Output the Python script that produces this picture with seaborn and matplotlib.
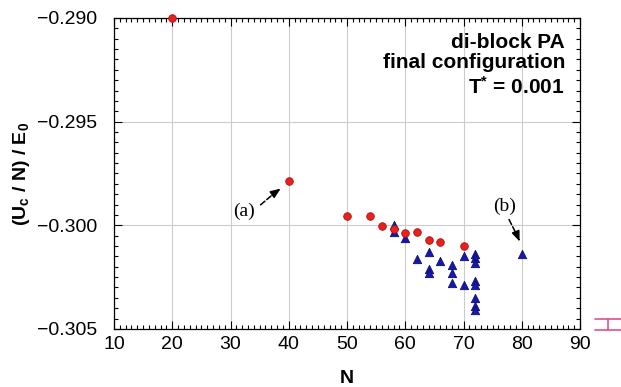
# di-block PA energy per monomer vs chain length N
import pandas as pd
import matplotlib.pyplot as plt
import matplotlib.ticker as mticker
from matplotlib.lines import Line2D
import seaborn as sns

# red circles
red_n = [20, 40, 50, 54, 56, 58, 60, 62, 64, 66, 70]
red_e = [-0.2900, -0.29786, -0.29955, -0.29955, -0.30005, -0.3002, -0.30035,
         -0.3003, -0.3007, -0.3008, -0.3010]

# blue triangles
blue_n = [58, 58, 60, 62, 64, 64, 64, 66, 68, 68, 68, 70, 70,
          72, 72, 72, 72, 72, 72, 72, 72, 80]
blue_e = [-0.29999, -0.3003, -0.3006, -0.30163, -0.3013, -0.3021, -0.3023,
          -0.3017, -0.3019, -0.3023, -0.3028, -0.3015, -0.3029,
          -0.3014, -0.3016, -0.3018, -0.3027, -0.3029, -0.3035, -0.3039,
          -0.3041, -0.3014]

sns.set_theme(style="ticks")
plt.rcParams['font.family'] = ['Liberation Sans', 'DejaVu Sans']
plt.rcParams['text.color'] = 'black'
plt.rcParams['axes.labelcolor'] = 'black'
plt.rcParams['mathtext.fontset'] = 'custom'
plt.rcParams['mathtext.rm'] = 'Liberation Sans:bold'
plt.rcParams['mathtext.it'] = 'Liberation Sans:bold'
plt.rcParams['mathtext.default'] = 'rm'

red_df = pd.DataFrame({"N": red_n, "E": red_e})
blue_df = pd.DataFrame({"N": blue_n, "E": blue_e})

fig = plt.figure(figsize=(6.21, 3.87), dpi=100)
ax = fig.add_axes([0.1836, 0.150, 0.7504, 0.8035])

sns.scatterplot(data=blue_df, x="N", y="E", marker="^", s=36, color="#1818b0",
                edgecolor="#0c0c70", linewidth=0.6, ax=ax, zorder=3, clip_on=False)
sns.scatterplot(data=red_df, x="N", y="E", marker="o", s=30, color="#e8211d",
                edgecolor="#b01010", linewidth=0.6, ax=ax, zorder=4, clip_on=False)

ax.set_xlim(10, 90)
ax.set_ylim(-0.305, -0.290)
ax.xaxis.set_major_locator(mticker.MultipleLocator(10))
ax.xaxis.set_minor_locator(mticker.MultipleLocator(1))
ax.yaxis.set_major_locator(mticker.MultipleLocator(0.005))
ax.yaxis.set_minor_locator(mticker.MultipleLocator(0.0005))
ax.yaxis.set_major_formatter(mticker.FuncFormatter(lambda v, p: "\u2212%.3f" % abs(v)))
ax.tick_params(which="both", direction="in", top=True, right=True, colors="black",
               labelsize=14, width=0.8)
ax.tick_params(axis="x", which="major", length=6, pad=5)
ax.tick_params(axis="y", which="major", length=6, pad=12)
ax.tick_params(which="minor", length=3)
ax.grid(True, which="major", color="#cccccc", linewidth=0.8)
ax.set_axisbelow(True)
for sp in ax.spines.values():
    sp.set_linewidth(0.9)
    sp.set_color("black")

ax.set_xlabel("N", fontsize=14, fontweight="bold", labelpad=12)
ax.set_ylabel("(U$_c$ / N) / E$_0$", fontsize=14, fontweight="bold", labelpad=4)

# text box top right
ax.text(0.968, 0.889, "di-block PA\nfinal configuration", transform=ax.transAxes,
        ha="right", va="center", fontsize=15, fontweight="bold", linespacing=1.05)
ax.text(0.968, 0.778, "T$^{*}$ = 0.001", transform=ax.transAxes,
        ha="right", va="center", fontsize=15, fontweight="bold")

# annotations (a) and (b): dashed shaft + solid head
for lab, tip, txt, start, back in [("(a)", (39.0, -0.29815), (32.3, -0.29935), (34.8, -0.2991), (37.6, -0.29843)),
                                   ("(b)", (79.8, -0.30090), (77.0, -0.29910), (77.6, -0.29960), (79.3, -0.30055))]:
    ax.text(txt[0], txt[1], lab, fontsize=14, family="Liberation Serif",
            ha="center", va="center")
    ax.annotate("", xy=back, xytext=start,
                arrowprops=dict(arrowstyle="-", linestyle="--", color="black", lw=1.1))
    ax.annotate("", xy=tip, xytext=back,
                arrowprops=dict(arrowstyle="-|>,head_length=0.5,head_width=0.2",
                                color="black", lw=1.1))

# small pink mark at the right edge
pink = "#e0508a"
for xs, ys in [([595, 621], [319, 319]), ([595, 621], [330, 330]), ([608, 608], [319, 330])]:
    fig.add_artist(Line2D([x / 621 for x in xs], [1 - y / 387 for y in ys],
                          color=pink, lw=1.2, transform=fig.transFigure))

fig.savefig("out.png", dpi=100)
